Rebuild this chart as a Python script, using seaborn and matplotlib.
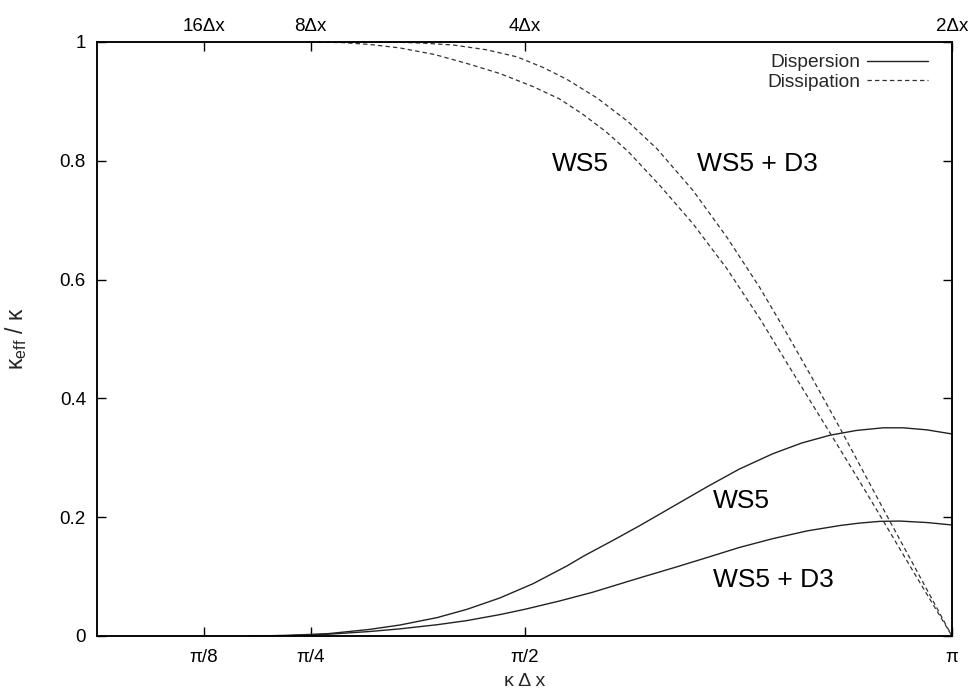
import numpy as np
import pandas as pd
import matplotlib
matplotlib.use("Agg")
import matplotlib.pyplot as plt
import seaborn as sns
from matplotlib.lines import Line2D

PI = np.pi

# Dispersion curves (solid)
k_disp_ws5 = [0.562, 0.70, 0.85, 1.00, 1.113, 1.25, 1.36, 1.48, 1.602, 1.727, 1.786, 1.90,
              1.995, 2.12, 2.241, 2.36, 2.484, 2.59, 2.693, 2.79, 2.888, 2.962, 3.05, PI]
disp_ws5 = [0.0, 0.001, 0.004, 0.011, 0.0185, 0.031, 0.045, 0.064, 0.088, 0.118, 0.134, 0.162,
            0.186, 0.219, 0.251, 0.281, 0.307, 0.325, 0.338, 0.346, 0.3505, 0.3505, 0.347, 0.3401]

k_disp_ws5d3 = [0.562, 0.70, 0.85, 1.00, 1.113, 1.25, 1.36, 1.48, 1.5725, 1.70, 1.82, 1.995,
                2.12, 2.241, 2.36, 2.484, 2.61, 2.73, 2.80, 2.877, 2.95, 3.05, PI]
disp_ws5d3 = [0.0, 0.0008, 0.003, 0.0075, 0.012, 0.019, 0.026, 0.036, 0.045, 0.059, 0.0735, 0.098,
              0.115, 0.132, 0.149, 0.164, 0.177, 0.186, 0.190, 0.193, 0.1935, 0.191, 0.1869]

# Dissipation curves (dashed)
k_diss_ws5 = [0.785, 0.90, 1.00, 1.113, 1.24, 1.358, 1.48, 1.602, 1.70, 1.786, 1.87, 1.951,
              2.069, 2.19, 2.315, 2.436, 2.572, 2.693, 2.80, 2.877, 3.00, PI]
diss_ws5 = [1.0, 0.999, 0.996, 0.990, 0.979, 0.964, 0.947, 0.925, 0.904, 0.878, 0.849, 0.816,
            0.758, 0.694, 0.618, 0.534, 0.432, 0.342, 0.262, 0.203, 0.108, 0.0]

k_diss_ws5d3 = [0.785, 1.00, 1.113, 1.20, 1.308, 1.43, 1.543, 1.64, 1.727, 1.84, 1.951, 2.058,
                2.19, 2.315, 2.436, 2.53, 2.627, 2.73, 2.82, 2.903, 3.02, PI]
diss_ws5d3 = [1.0, 1.0, 0.9995, 0.998, 0.995, 0.987, 0.975, 0.957, 0.937, 0.905, 0.866, 0.820,
              0.750, 0.671, 0.586, 0.513, 0.435, 0.350, 0.273, 0.202, 0.103, 0.0]

x_ticks = [PI / 8, PI / 4, PI / 2, PI]
x_ticklabels = ["π/8", "π/4", "π/2", "π"]
top_ticklabels = ["16Δx", "8Δx", "4Δx", "2Δx"]
y_ticks = [0, 0.2, 0.4, 0.6, 0.8, 1.0]
y_ticklabels = ["0", "0.2", "0.4", "0.6", "0.8", "1"]

sns.set_theme(style="ticks")
plt.rcParams["font.family"] = ["Liberation Sans", "DejaVu Sans"]
plt.rcParams["mathtext.fontset"] = "custom"
plt.rcParams["mathtext.rm"] = "Liberation Sans"
plt.rcParams["mathtext.it"] = "Liberation Sans:italic"

W, H = 969, 693
fig = plt.figure(figsize=(W / 100, H / 100), dpi=100)
ax = fig.add_axes([97 / W, (H - 636) / H, 855 / W, 594 / H])

solid = dict(color="#222222", lw=1.0)
dashed = dict(color="#333333", lw=0.9, linestyle=(0, (3.5, 2.5)))

curves = [
    (k_disp_ws5, disp_ws5, solid),
    (k_disp_ws5d3, disp_ws5d3, solid),
    (k_diss_ws5, diss_ws5, dashed),
    (k_diss_ws5d3, diss_ws5d3, dashed),
]
for kx, vy, style in curves:
    df = pd.DataFrame({"k": kx, "v": vy})
    sns.lineplot(data=df, x="k", y="v", ax=ax, sort=False, estimator=None, **style)

ax.set_xlim(0, PI)
ax.set_ylim(0, 1)
ax.set_xticks(x_ticks, x_ticklabels)
ax.set_yticks(y_ticks, y_ticklabels)
ax.tick_params(direction="in", length=6.5, width=1, right=True, top=False,
               labelsize=13.5, colors="black")
ax.tick_params(axis="x", pad=9)
ax.tick_params(axis="y", pad=8)
for sp in ax.spines.values():
    sp.set_visible(True)
    sp.set_linewidth(1.1)
    sp.set_color("black")

ax2 = ax.twiny()
ax2.set_xlim(0, PI)
ax2.set_xticks(x_ticks, top_ticklabels)
ax2.tick_params(direction="in", length=6.5, width=1, labelsize=13.5, pad=5, colors="black")
for sp in ax2.spines.values():
    sp.set_linewidth(1.1)
    sp.set_color("black")

ax.set_xlabel("κ Δ x", fontsize=14)
ax.xaxis.set_label_coords(0.5, -0.062)
ax.set_ylabel(r"$\mathregular{\kappa_{eff}\ /\ \kappa}$", fontsize=16.5)
ax.yaxis.set_label_coords(-0.079, 0.5)

txt = dict(fontsize=19, ha="left", va="baseline", color="black")
ax.text(1.672, 0.783, "WS5", **txt)
ax.text(2.205, 0.783, "WS5 + D3", **txt)
ax.text(2.264, 0.2155, "WS5", **txt)
ax.text(2.264, 0.0825, "WS5 + D3", **txt)

handles = [Line2D([], [], **solid), Line2D([], [], **dashed)]
ax.legend(handles, ["Dispersion", "Dissipation"], loc="upper right",
          bbox_to_anchor=((928 - 97) / 855, (636 - 54) / 594),
          frameon=False, markerfirst=False, handlelength=3.2, handletextpad=0.35,
          fontsize=13.8, labelspacing=0.12, borderaxespad=0, borderpad=0)

fig.savefig("out.png", dpi=100)
